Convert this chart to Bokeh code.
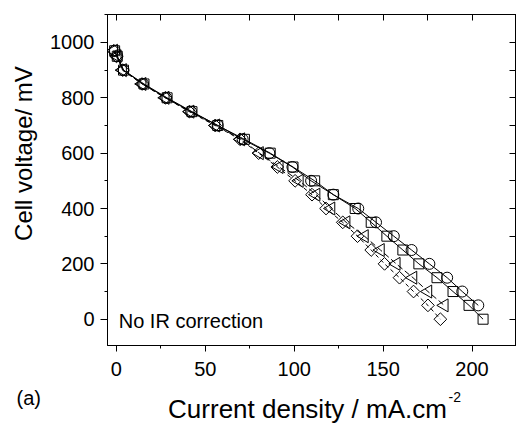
import math
from bokeh.plotting import figure
from bokeh.layouts import row, column
from bokeh.core.properties import value
from bokeh.models import (LinearAxis, SingleIntervalTicker, Range1d, Label, ColumnDataSource,
                          CustomJSTickFormatter)
from bokeh.embed import file_html
from bokeh.resources import INLINE

# ---- data ----
v_circ = [970, 950, 900, 850, 800, 750, 700, 650, 600, 550, 500, 450, 400, 350, 300, 250, 200, 150, 100, 50]
j_circ = [-1, 0.5, 4, 15, 28, 42, 57, 71, 86, 99, 109.5, 122, 136, 146, 156, 166, 176, 186, 194.5, 203.5]

v_sq = [970, 950, 900, 850, 800, 750, 700, 650, 600, 550, 500, 450, 400, 350, 300, 250, 200, 150, 100, 50, 0]
j_sq = [-1, 0.5, 4, 15.5, 28.5, 42.5, 57, 72, 86.5, 99.3, 111.5, 122, 134.3, 143.3, 152.1, 161.1, 170.1, 180.3, 189.3, 198.3, 206.2]

v_tri = [970, 950, 900, 850, 800, 750, 700, 650, 600, 550, 500, 450, 400, 350, 300, 250, 200, 150, 100, 50]
j_tri = [-1.5, 0.5, 3.5, 14.5, 27.5, 41.5, 56, 70, 80.5, 91.6, 102.9, 112.3, 120.7, 129.2, 139.5, 148.5, 157.4, 166.8, 175.2, 184.4]

v_dia = [970, 950, 900, 850, 800, 750, 700, 650, 600, 550, 500, 450, 400, 350, 300, 250, 200, 150, 100, 50, 0]
j_dia = [-1.5, 0, 3.5, 14.5, 27.5, 41, 55.5, 69.5, 80, 90.5, 100.5, 110, 117.9, 127.3, 135.6, 143.3, 150.8, 159.2, 167.1, 175.2, 182.2]

x_label = "Current density / mA.cm"
x_label_sup = "-2"
y_label = "Cell voltage/ mV"
note = "No IR correction"
panel = "(a)"

FONT = "Liberation Sans"

W, H = 516, 423
STRIP_L = 44          # width of the left text strip
TOP_H = 388           # height of the upper row (plot + tick labels)
FRAME_LEFT = 107      # canvas x of the plot frame's left edge
FRAME_TOP = 14
FRAME_BOTTOM = 345

# ---------------- main plot ----------------
p = figure(width=W - STRIP_L, height=TOP_H, output_backend="svg", toolbar_location=None,
           x_range=Range1d(-5, 225), y_range=Range1d(-95, 1101),
           x_axis_type=None, y_axis_type=None,
           min_border_left=FRAME_LEFT - STRIP_L, min_border_right=0, min_border_top=FRAME_TOP,
           min_border_bottom=TOP_H - FRAME_BOTTOM)
p.grid.visible = False
p.outline_line_color = "black"
p.outline_line_width = 1
p.background_fill_color = "white"
p.border_fill_color = "white"

blank = CustomJSTickFormatter(code="return ''")

def style_axis(ax, show_labels=True):
    ax.axis_line_color = "black"
    ax.major_tick_line_color = "black"
    ax.minor_tick_line_color = "black"
    ax.major_label_text_font = FONT
    ax.major_label_text_color = "black"
    if show_labels:
        ax.major_label_text_font_size = "20px"
    else:
        ax.major_label_text_font_size = "0px"
        ax.major_label_standoff = 0
        ax.formatter = blank

bottom = LinearAxis(ticker=SingleIntervalTicker(interval=50, num_minor_ticks=2))
style_axis(bottom)
bottom.major_tick_in = 0
bottom.major_tick_out = 6
bottom.minor_tick_in = 0
bottom.minor_tick_out = 3
bottom.major_label_standoff = 10
p.add_layout(bottom, "below")

left = LinearAxis(ticker=SingleIntervalTicker(interval=200, num_minor_ticks=2))
style_axis(left)
left.major_tick_in = 0
left.major_tick_out = 7
left.minor_tick_in = 0
left.minor_tick_out = 3
left.major_label_standoff = 6
p.add_layout(left, "left")

top = LinearAxis(ticker=SingleIntervalTicker(interval=25, num_minor_ticks=0))
style_axis(top, False)
top.major_tick_in = 6
top.major_tick_out = 0
p.add_layout(top, "above")

right = LinearAxis(ticker=SingleIntervalTicker(interval=100, num_minor_ticks=0))
style_axis(right, False)
right.major_tick_in = 7
right.major_tick_out = 0
p.add_layout(right, "right")

series = [
    (j_circ, v_circ, "circle", 11, 0, None),
    (j_sq, v_sq, "square", 10, 0, None),
    (j_tri, v_tri, "triangle", 13, math.pi / 2, "6 3"),
    (j_dia, v_dia, "square", 9, math.pi / 4, "4 3"),
]
for xs, ys, marker, size, ang, dash in series:
    src = ColumnDataSource(dict(x=xs, y=ys))
    if dash is None:
        p.line("x", "y", source=src, line_color="black", line_width=1)
    else:
        p.line("x", "y", source=src, line_color="black", line_width=1, line_dash=dash)
for xs, ys, marker, size, ang, dash in series:
    src = ColumnDataSource(dict(x=xs, y=ys))
    p.scatter("x", "y", source=src, marker=marker, size=size, angle=ang,
              line_color="black", line_width=1, fill_color=None)

p.add_layout(Label(x=1.3, y=-6, text=note, text_font=FONT, text_font_size="20px",
                   text_color="black", text_baseline="alphabetic"))

# ---------------- text strips (pixel-coordinate figures) ----------------
def strip(w, h):
    f = figure(width=w, height=h, output_backend="svg", toolbar_location=None,
               x_range=Range1d(0, w), y_range=Range1d(0, h),
               x_axis_type=None, y_axis_type=None, min_border=0)
    f.grid.visible = False
    f.outline_line_color = None
    f.background_fill_color = "white"
    f.border_fill_color = "white"
    return f

p_left = strip(STRIP_L, TOP_H)
p_left.text(x=[22.5], y=[TOP_H - 163], text=[y_label], angle=math.pi / 2,
            text_font=value(FONT), text_font_size=value("24px"),
            text_align="center", text_baseline="middle", text_color="black")

BOT_H = H - TOP_H
p_bot = strip(W, BOT_H)
p_bot.text(x=[307], y=[15], text=[x_label],
           text_font=value(FONT), text_font_size=value("26px"),
           text_align="center", text_baseline="alphabetic", text_color="black")
p_bot.text(x=[448], y=[27], text=[x_label_sup],
           text_font=value(FONT), text_font_size=value("14px"),
           text_align="left", text_baseline="alphabetic", text_color="black")
p_bot.text(x=[16], y=[26], text=[panel],
           text_font=value(FONT), text_font_size=value("20px"),
           text_align="left", text_baseline="alphabetic", text_color="black")

layout = column(row(p_left, p, spacing=0), p_bot, spacing=0)

open("out.html", "w").write(file_html(layout, INLINE))
